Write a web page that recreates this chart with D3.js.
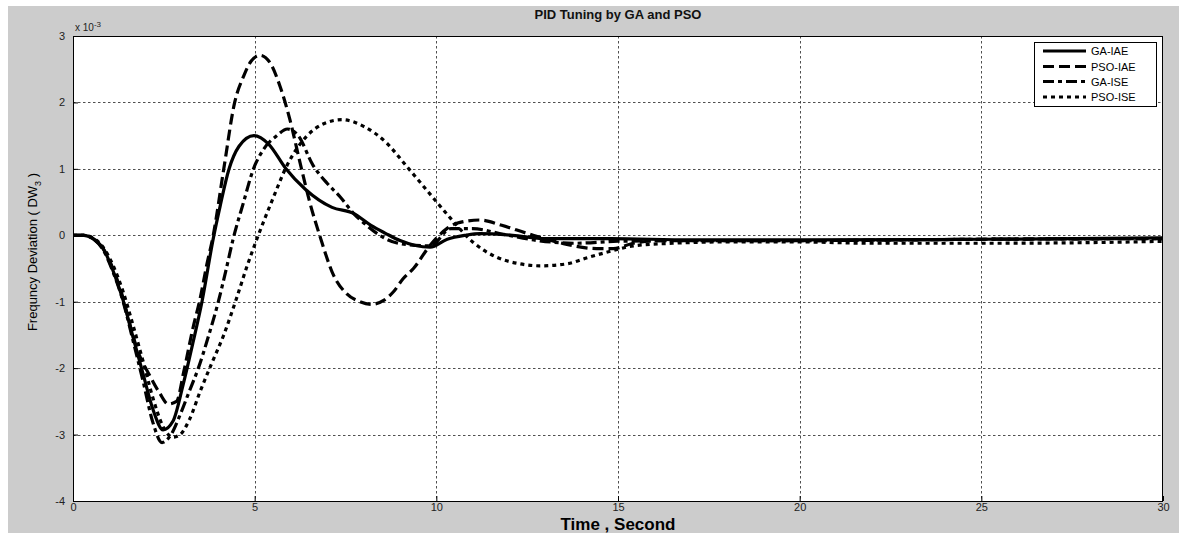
<!DOCTYPE html>
<html>
<head>
<meta charset="utf-8">
<script src="https://cdn.jsdelivr.net/npm/d3@7"></script>
<style>
  html, body { margin: 0; padding: 0; background: #ffffff; }
  svg { display: block; font-family: Arial, "Liberation Sans", sans-serif; }
</style>
</head>
<body>
<svg id="chart" width="1179" height="535"></svg>
<script>
// ---------- data (values in units of 1e-3) ----------
const xTicks = [0, 5, 10, 15, 20, 25, 30];
const yTicks = [-4, -3, -2, -1, 0, 1, 2, 3];
const seriesNames = ["GA-IAE", "PSO-IAE", "GA-ISE", "PSO-ISE"];

const gaIae = [[0,0],[0.3,0],[0.55,-0.05],[0.83,-0.2],[1.1,-0.53],[1.38,-0.98],[1.65,-1.53],[1.93,-2.09],[2.2,-2.62],[2.48,-2.93],[2.75,-2.8],[3.03,-2.25],[3.3,-1.62],[3.55,-1.0],[3.86,-0.05],[4.05,0.44],[4.29,0.99],[4.57,1.34],[4.98,1.5],[5.39,1.37],[5.85,1.01],[6.4,0.69],[7.13,0.42],[7.72,0.33],[8.2,0.15],[8.6,0.03],[9.0,-0.08],[9.4,-0.15],[9.83,-0.18],[10.3,-0.06],[10.8,0.0],[11.2,0.025],[12.1,0.0],[13.0,-0.05],[14.8,-0.05],[17,-0.07],[20,-0.07],[25,-0.06],[30,-0.04]];

const psoIae = [[0,0],[0.3,0],[0.55,-0.05],[0.83,-0.2],[1.1,-0.5],[1.38,-0.95],[1.57,-1.35],[1.75,-1.69],[2.12,-2.12],[2.39,-2.38],[2.62,-2.54],[2.85,-2.5],[3.05,-2.05],[3.3,-1.4],[3.5,-0.95],[3.68,-0.45],[3.86,0],[4.15,1.0],[4.45,2.0],[4.7,2.4],[4.9,2.62],[5.15,2.71],[5.42,2.6],[5.7,2.24],[5.97,1.74],[6.25,1.09],[6.52,0.49],[6.8,-0.02],[7.17,-0.6],[7.53,-0.88],[7.9,-1.0],[8.22,-1.04],[8.55,-0.98],[8.82,-0.85],[9.09,-0.65],[9.37,-0.5],[9.83,-0.15],[10.29,0.1],[10.56,0.18],[11.2,0.23],[11.8,0.15],[12.49,0.03],[13.5,-0.125],[14.41,-0.2],[14.87,-0.2],[15.42,-0.12],[16.2,-0.08],[20,-0.08],[25,-0.06],[30,-0.05]];

const gaIse = [[0,0],[0.3,0],[0.55,-0.05],[0.83,-0.22],[1.1,-0.55],[1.38,-1.0],[1.65,-1.58],[1.93,-2.2],[2.2,-2.82],[2.45,-3.12],[2.7,-3.0],[2.95,-2.7],[3.2,-2.35],[3.45,-2.0],[3.75,-1.48],[4.0,-1.0],[4.2,-0.55],[4.41,-0.05],[4.69,0.49],[4.96,0.99],[5.24,1.29],[5.61,1.5],[5.9,1.6],[6.2,1.5],[6.6,1.06],[7.0,0.78],[7.35,0.58],[7.72,0.33],[8.08,0.15],[8.63,-0.06],[9.18,-0.14],[9.83,-0.16],[10.4,0.1],[11.0,0.1],[11.8,0.02],[12.8,-0.08],[13.8,-0.12],[15,-0.09],[17,-0.08],[20,-0.08],[25,-0.06],[30,-0.05]];

const psoIse = [[0,0],[0.3,0],[0.55,-0.04],[0.83,-0.18],[1.1,-0.45],[1.38,-0.85],[1.65,-1.35],[1.93,-1.9],[2.2,-2.45],[2.48,-2.88],[2.75,-3.04],[2.95,-3.0],[3.2,-2.78],[3.5,-2.35],[3.8,-1.95],[4.15,-1.5],[4.5,-0.95],[4.8,-0.45],[5.1,0.0],[5.5,0.55],[5.88,1.04],[6.43,1.49],[6.9,1.68],[7.4,1.74],[8.0,1.64],[8.63,1.39],[9.18,1.04],[9.92,0.56],[10.4,0.25],[11.0,-0.1],[11.66,-0.33],[12.3,-0.43],[12.85,-0.46],[13.59,-0.43],[14.2,-0.33],[14.87,-0.23],[15.42,-0.16],[16.5,-0.12],[18,-0.1],[20,-0.1],[22,-0.12],[25,-0.12],[28,-0.11],[30,-0.09]];

// ---------- layout ----------
const svg = d3.select("#chart");
const W = 1179, H = 535;
const plot = { left: 73, right: 1163, top: 36, bottom: 501 };

// gray figure background
svg.append("rect").attr("x", 8).attr("y", 6).attr("width", W - 8).attr("height", 527).attr("fill", "#cccccc");

const x = d3.scaleLinear().domain([0, 30]).range([plot.left, plot.right]);
const y = d3.scaleLinear().domain([-4, 3]).range([plot.bottom, plot.top]);

// plot area
svg.append("rect").attr("x", plot.left).attr("y", plot.top)
  .attr("width", plot.right - plot.left).attr("height", plot.bottom - plot.top)
  .attr("fill", "#ffffff");

// grid
const grid = svg.append("g").attr("stroke", "#222").attr("stroke-width", 0.8).attr("stroke-dasharray", "2.5,2.5");
grid.selectAll("line.v").data(xTicks.filter(d => d > 0 && d < 30)).enter().append("line")
  .attr("x1", d => Math.round(x(d)) + 0.5).attr("x2", d => Math.round(x(d)) + 0.5)
  .attr("y1", plot.top).attr("y2", plot.bottom);
grid.selectAll("line.h").data(yTicks.filter(d => d > -4 && d < 3)).enter().append("line")
  .attr("y1", d => Math.round(y(d)) + 0.5).attr("y2", d => Math.round(y(d)) + 0.5)
  .attr("x1", plot.left).attr("x2", plot.right);

// axes (MATLAB style, ticks inside)
const xAxis = d3.axisBottom(x).tickValues(xTicks).tickSizeInner(-5).tickSizeOuter(0).tickPadding(3).tickFormat(d => String(d));
const gx = svg.append("g").attr("transform", `translate(0,${plot.bottom})`).call(xAxis);
const yAxis = d3.axisLeft(y).tickValues(yTicks).tickSizeInner(-5).tickSizeOuter(0).tickPadding(8).tickFormat(d => String(d));
const gy = svg.append("g").attr("transform", `translate(${plot.left},0)`).call(yAxis);
[gx, gy].forEach(g => {
  g.select(".domain").remove();
  g.selectAll(".tick line").attr("stroke", "#000");
  g.selectAll(".tick text").attr("fill", "#222").attr("font-size", 11).attr("font-family", "Arial, 'Liberation Sans', sans-serif");
});
gx.selectAll(".tick text").attr("dy", "0.6em");

// box
svg.append("rect").attr("x", plot.left + 0.5).attr("y", plot.top + 0.5)
  .attr("width", plot.right - plot.left - 1).attr("height", plot.bottom - plot.top)
  .attr("fill", "none").attr("stroke", "#000").attr("stroke-width", 1);

// exponent label
const expT = svg.append("text").attr("x", 75).attr("y", 31).attr("font-size", 10).attr("fill", "#222");
expT.append("tspan").text("x 10");
expT.append("tspan").attr("dy", -4).attr("font-size", 8).text("-3");

// curves
const styles = [
  { data: gaIae, dash: null },
  { data: psoIae, dash: "11,5" },
  { data: gaIse, dash: "11,4,4,4" },
  { data: psoIse, dash: "4,4" }
];
const line = d3.line().x(d => x(d[0])).y(d => y(d[1])).curve(d3.curveMonotoneX);
const curves = svg.append("g");
styles.forEach(s => {
  curves.append("path").attr("d", line(s.data)).attr("fill", "none")
    .attr("stroke", "#000").attr("stroke-width", 3.2)
    .attr("stroke-linejoin", "round")
    .attr("stroke-dasharray", s.dash);
});

// legend
const lg = svg.append("g");
lg.append("rect").attr("x", 1034.5).attr("y", 42.5).attr("width", 122).attr("height", 64)
  .attr("fill", "#fff").attr("stroke", "#000").attr("stroke-width", 1);
const legY = [51, 66.5, 81.5, 97];
styles.forEach((s, i) => {
  lg.append("line").attr("x1", 1043).attr("x2", 1086).attr("y1", legY[i]).attr("y2", legY[i])
    .attr("stroke", "#000").attr("stroke-width", 3.2).attr("stroke-dasharray", s.dash);
  lg.append("text").attr("x", 1091).attr("y", legY[i] + 4).attr("font-size", 11).attr("fill", "#000")
    .text(seriesNames[i]);
});

// title
svg.append("text").attr("x", (plot.left + plot.right) / 2).attr("y", 19).attr("text-anchor", "middle")
  .attr("font-size", 13).attr("font-weight", "bold").attr("fill", "#111").text("PID Tuning by GA and PSO");

// x label
svg.append("text").attr("x", 618).attr("y", 530).attr("text-anchor", "middle")
  .attr("font-size", 17).attr("font-weight", "bold").attr("fill", "#000").text("Time , Second");

// y label
const yl = svg.append("text").attr("transform", "translate(37,252) rotate(-90)").attr("text-anchor", "middle")
  .attr("font-size", 13).attr("fill", "#000");
yl.append("tspan").text("Frequncy Deviation ( DW");
yl.append("tspan").attr("font-size", 9).attr("dy", 4).text("3");
yl.append("tspan").attr("dy", -4).text(" )");
</script>
</body>
</html>
